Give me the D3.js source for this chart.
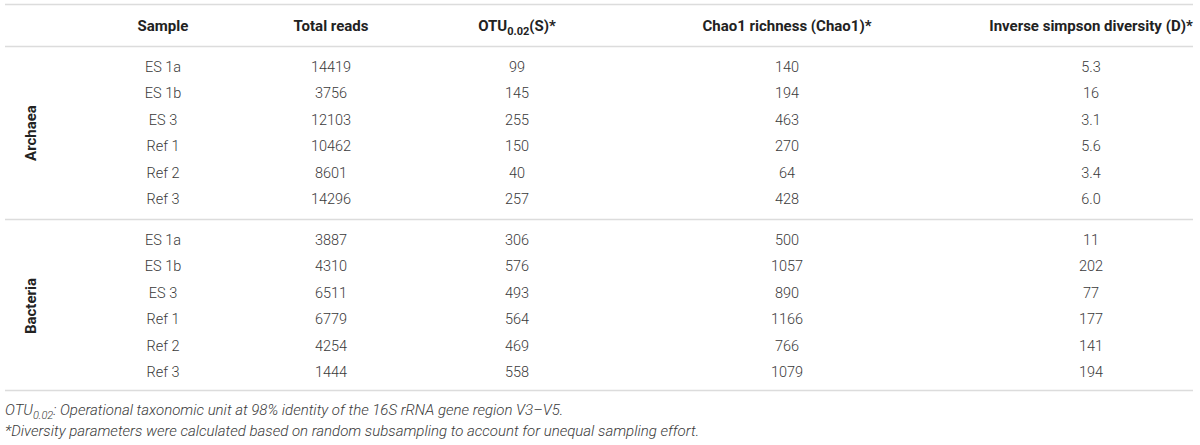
<!DOCTYPE html>
<html>
<head>
<meta charset="utf-8">
<script src="https://cdn.jsdelivr.net/npm/d3@7"></script>
<style>
  html, body { margin: 0; padding: 0; background: #fff; }
  svg { display: block; font-family: Roboto, "Liberation Sans", Arial, sans-serif; }
</style>
</head>
<body>
<div id="table"></div>
<script>
// ---------------------------------------------------------------------------
// DATA
// ---------------------------------------------------------------------------
const groups = ["Archaea", "Bacteria"];
const samples = ["ES 1a", "ES 1b", "ES 3", "Ref 1", "Ref 2", "Ref 3"];

const totalReads = {
    Archaea: [14419, 3756, 12103, 10462, 8601, 14296],
    Bacteria: [3887, 4310, 6511, 6779, 4254, 1444]
};
const otu = {
    Archaea: [99, 145, 255, 150, 40, 257],
    Bacteria: [306, 576, 493, 564, 469, 558]
};
const chao1 = {
    Archaea: [140, 194, 463, 270, 64, 428],
    Bacteria: [500, 1057, 890, 1166, 766, 1079]
};
const invSimpson = {
    Archaea: ["5.3", "16", "3.1", "5.6", "3.4", "6.0"],
    Bacteria: ["11", "202", "77", "177", "141", "194"]
};

const footnotes = [
    "Operational taxonomic unit at 98% identity of the 16S rRNA gene region V3\u2013V5.",
    "*Diversity parameters were calculated based on random subsampling to account for unequal sampling effort."
];

// ---------------------------------------------------------------------------
// LAYOUT
// ---------------------------------------------------------------------------
const width = 1200, height = 445;
const lineX0 = 5, lineX1 = 1193;
const rowStep = 26.4;
const groupTop = { Archaea: 67, Bacteria: 240 };
const textColor = "#3a3a3a";
const ruleColor = "#dcdcdc";

const columns = [
    { key: "sample", x: 163 },
    { key: "reads", x: 331 },
    { key: "otu", x: 517 },
    { key: "chao", x: 787 },
    { key: "simpson", x: 1091 }
];

const svg = d3.select("#table").append("svg")
    .attr("width", width)
    .attr("height", height);

// row scale inside each group
const rowY = d3.scaleLinear().domain([0, 1]).range([0, rowStep]);

// ---------------------------------------------------------------------------
// RULES
// ---------------------------------------------------------------------------
const rules = [4.5, 46.5, 219.5, 390.5];
svg.selectAll("line.rule")
    .data(rules)
    .enter()
    .append("line")
    .attr("class", "rule")
    .attr("x1", lineX0).attr("x2", lineX1)
    .attr("y1", d => d).attr("y2", d => d)
    .style("stroke", ruleColor)
    .style("stroke-width", 1.5);

// ---------------------------------------------------------------------------
// HEADER
// ---------------------------------------------------------------------------
const header = svg.append("g")
    .attr("font-size", 15)
    .attr("font-weight", "bold")
    .attr("fill", "#222")
    .attr("text-anchor", "middle");

function headerText(x) {
    return header.append("text")
        .attr("x", x)
        .attr("y", 26)
        .attr("dy", "0.35em");
}

headerText(columns[0].x).text("Sample");
headerText(columns[1].x).text("Total reads");
const otuHead = headerText(columns[2].x);
otuHead.append("tspan").text("OTU");
otuHead.append("tspan").attr("font-size", 11).attr("dy", 4).text("0.02");
otuHead.append("tspan").attr("dy", -4).text("(S)*");
headerText(columns[3].x).text("Chao1 richness (Chao1)*");
headerText(columns[4].x).text("Inverse simpson diversity (D)*");

// ---------------------------------------------------------------------------
// BODY
// ---------------------------------------------------------------------------
groups.forEach(group => {
    const g = svg.append("g")
        .attr("transform", `translate(0,${groupTop[group]})`)
        .attr("font-size", 14.5)
        .attr("font-weight", 300)
        .attr("fill", textColor)
        .attr("text-anchor", "middle");

    const rows = samples.map((s, i) => ({
        sample: s,
        reads: totalReads[group][i],
        otu: otu[group][i],
        chao: chao1[group][i],
        simpson: invSimpson[group][i],
        i: i
    }));

    const rowG = g.selectAll("g.row")
        .data(rows)
        .enter()
        .append("g")
        .attr("class", "row")
        .attr("transform", d => `translate(0,${rowY(d.i)})`);

    columns.forEach(col => {
        rowG.append("text")
            .attr("x", col.x)
            .attr("dy", "0.35em")
            .text(d => d[col.key]);
    });

    // rotated group label
    const midY = rowY((samples.length - 1) / 2);
    g.append("text")
        .attr("transform", `translate(31,${midY}) rotate(-90)`)
        .attr("dy", "0.35em")
        .attr("font-size", 15)
        .attr("font-weight", "bold")
        .attr("fill", "#222")
        .text(group);
});

// ---------------------------------------------------------------------------
// FOOTNOTES
// ---------------------------------------------------------------------------
const foot = svg.append("g")
    .attr("font-size", 15)
    .attr("font-style", "italic")
    .attr("font-weight", 300)
    .attr("fill", textColor);

const f1 = foot.append("text").attr("x", 5).attr("y", 410).attr("dy", "0.35em");
f1.append("tspan").text("OTU");
f1.append("tspan").attr("font-size", 11).attr("dy", 4).text("0.02");
f1.append("tspan").attr("dy", -4).text(": " + footnotes[0]);

foot.append("text")
    .attr("x", 5).attr("y", 431).attr("dy", "0.35em")
    .text(footnotes[1]);
</script>
</body>
</html>
